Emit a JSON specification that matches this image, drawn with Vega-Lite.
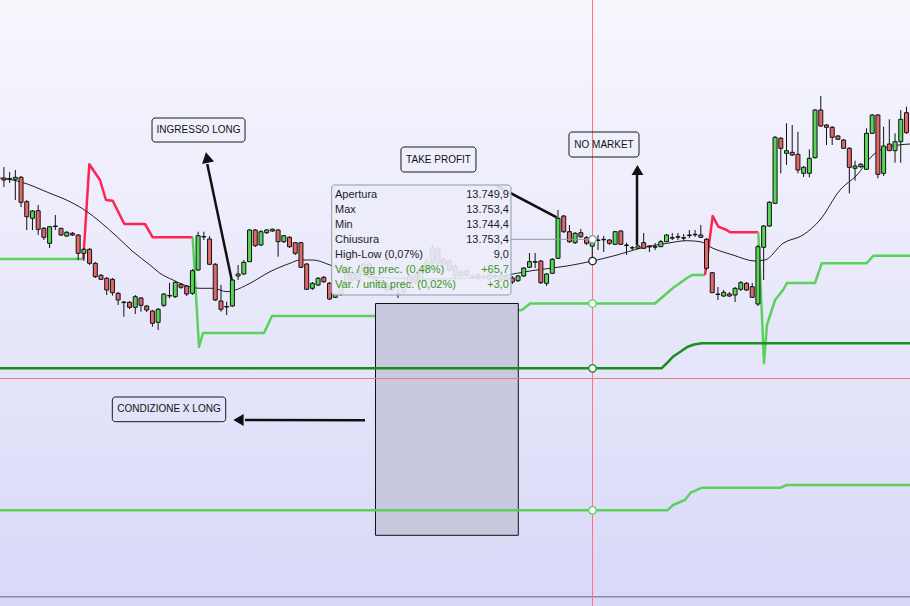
{
"$schema": "https://vega.github.io/schema/vega-lite/v6.json",
"width": 910, "height": 606, "padding": 0, "autosize": {"type": "none"},
"config": {"view": {"stroke": null}, "axis": {"disable": true}, "font": "Liberation Sans", "scale": {"continuousPadding": 0}},
"datasets": {
"candles": [
{"i":0,"o":13784,"h":13789.5,"l":13779.5,"c":13783},
{"i":1,"o":13783.5,"h":13787,"l":13781.5,"c":13783.75},
{"i":2,"o":13783.35,"h":13788,"l":13773,"c":13784.35},
{"i":3,"o":13784.35,"h":13785,"l":13769.5,"c":13771.85},
{"i":4,"o":13772.15,"h":13773,"l":13758,"c":13764.65},
{"i":5,"o":13763.85,"h":13768,"l":13758,"c":13767.5},
{"i":6,"o":13767.65,"h":13770.5,"l":13755.5,"c":13758.35},
{"i":7,"o":13758.85,"h":13759.5,"l":13753,"c":13754.35},
{"i":8,"o":13751.35,"h":13760,"l":13749,"c":13759.65},
{"i":9,"o":13760,"h":13765.5,"l":13758,"c":13759.75},
{"i":10,"o":13758.85,"h":13759,"l":13755,"c":13755.5},
{"i":11,"o":13755,"h":13757.5,"l":13754.5,"c":13756.85},
{"i":12,"o":13756.35,"h":13757,"l":13755,"c":13755.5},
{"i":13,"o":13755.5,"h":13756,"l":13743,"c":13746.35},
{"i":14,"o":13746.35,"h":13749,"l":13742.5,"c":13748.35},
{"i":15,"o":13748.35,"h":13749,"l":13740.5,"c":13741.35},
{"i":16,"o":13741.35,"h":13742,"l":13734,"c":13734.65},
{"i":17,"o":13735.35,"h":13736,"l":13733,"c":13733.35},
{"i":18,"o":13733.85,"h":13734.5,"l":13725.5,"c":13728},
{"i":19,"o":13733.35,"h":13734,"l":13725.15,"c":13726.65},
{"i":20,"o":13726.35,"h":13727,"l":13720.5,"c":13723},
{"i":21,"o":13722,"h":13722.5,"l":13714.65,"c":13721.7},
{"i":22,"o":13721.85,"h":13722.5,"l":13718.5,"c":13719.35},
{"i":23,"o":13719.35,"h":13725.5,"l":13716,"c":13724.65},
{"i":24,"o":13724,"h":13724.5,"l":13717.15,"c":13720.35},
{"i":25,"o":13720,"h":13720.5,"l":13717,"c":13718},
{"i":26,"o":13717.5,"h":13718,"l":13709.65,"c":13711.35},
{"i":27,"o":13711.85,"h":13719,"l":13708,"c":13718.35},
{"i":28,"o":13720.35,"h":13726.5,"l":13719.5,"c":13726},
{"i":29,"o":13725,"h":13731.65,"l":13723.85,"c":13725.25},
{"i":30,"o":13724.65,"h":13732.5,"l":13724,"c":13731.85},
{"i":31,"o":13730.85,"h":13731.5,"l":13728.5,"c":13729.35},
{"i":32,"o":13730,"h":13730.5,"l":13725,"c":13726},
{"i":33,"o":13726.35,"h":13738.5,"l":13725.5,"c":13737.65},
{"i":34,"o":13738,"h":13757.15,"l":13737.5,"c":13755.15},
{"i":35,"o":13754.75,"h":13757.15,"l":13753,"c":13754.5},
{"i":36,"o":13753.5,"h":13755,"l":13740.5,"c":13740.85},
{"i":37,"o":13740.85,"h":13741.5,"l":13722.5,"c":13723},
{"i":38,"o":13722.5,"h":13730.5,"l":13717.15,"c":13718.35},
{"i":39,"o":13719.75,"h":13722.15,"l":13715.5,"c":13719.5},
{"i":40,"o":13720,"h":13733.5,"l":13719.5,"c":13733},
{"i":41,"o":13735,"h":13740.5,"l":13733,"c":13736},
{"i":42,"o":13736,"h":13743,"l":13735.5,"c":13741.85},
{"i":43,"o":13742.15,"h":13758.5,"l":13742,"c":13758},
{"i":44,"o":13758,"h":13758.5,"l":13749.5,"c":13750.15},
{"i":45,"o":13750.5,"h":13758,"l":13750,"c":13757.15},
{"i":46,"o":13756.65,"h":13758.5,"l":13756,"c":13758},
{"i":47,"o":13757.5,"h":13758.75,"l":13757,"c":13758.35},
{"i":48,"o":13758,"h":13758.5,"l":13744.65,"c":13752.15},
{"i":49,"o":13752.15,"h":13755.5,"l":13751.5,"c":13755.15},
{"i":50,"o":13754.35,"h":13755,"l":13749,"c":13749.65},
{"i":51,"o":13751.65,"h":13752,"l":13745.5,"c":13746.35},
{"i":52,"o":13751.65,"h":13752,"l":13739,"c":13739.35},
{"i":53,"o":13741,"h":13741.5,"l":13728,"c":13728.35},
{"i":54,"o":13728.85,"h":13732,"l":13728,"c":13731.35},
{"i":55,"o":13730.5,"h":13734.5,"l":13730,"c":13733.85},
{"i":56,"o":13734.35,"h":13735,"l":13731.5,"c":13732.15},
{"i":57,"o":13731.35,"h":13732,"l":13723,"c":13723.5},
{"i":58,"o":13724.35,"h":13726.5,"l":13724,"c":13725.85},
{"i":59,"o":13726,"h":13731,"l":13725,"c":13730.5},
{"i":60,"o":13730.5,"h":13738,"l":13729.5,"c":13737},
{"i":61,"o":13736.5,"h":13739,"l":13732,"c":13733},
{"i":62,"o":13733,"h":13740,"l":13732,"c":13738},
{"i":63,"o":13737.5,"h":13742,"l":13736.5,"c":13741},
{"i":64,"o":13741,"h":13742,"l":13733.5,"c":13734.5},
{"i":65,"o":13734.5,"h":13735,"l":13729.5,"c":13731},
{"i":66,"o":13731,"h":13733,"l":13728.5,"c":13730.75},
{"i":67,"o":13731,"h":13732,"l":13727,"c":13728},
{"i":68,"o":13728,"h":13731,"l":13727,"c":13730},
{"i":69,"o":13726.5,"h":13728.5,"l":13724,"c":13726.25},
{"i":70,"o":13727,"h":13732.5,"l":13726,"c":13731.5},
{"i":71,"o":13731,"h":13736,"l":13730,"c":13735},
{"i":72,"o":13735,"h":13736,"l":13731,"c":13732},
{"i":73,"o":13732,"h":13739,"l":13731.5,"c":13738},
{"i":74,"o":13738,"h":13744,"l":13737.5,"c":13742},
{"i":75,"o":13741.5,"h":13751,"l":13741,"c":13749},
{"i":76,"o":13748.5,"h":13750,"l":13740.5,"c":13741.5},
{"i":77,"o":13741,"h":13744.5,"l":13740,"c":13743},
{"i":78,"o":13742.5,"h":13743.5,"l":13737,"c":13738},
{"i":79,"o":13740,"h":13741,"l":13734,"c":13735},
{"i":80,"o":13735,"h":13738,"l":13734,"c":13737},
{"i":81,"o":13737.5,"h":13738.5,"l":13734.5,"c":13735.5},
{"i":82,"o":13735,"h":13736,"l":13733.5,"c":13734.75},
{"i":83,"o":13735.5,"h":13736.5,"l":13733,"c":13734},
{"i":84,"o":13734.5,"h":13735.5,"l":13733,"c":13734.25},
{"i":85,"o":13733.5,"h":13736.5,"l":13732.5,"c":13735.5},
{"i":86,"o":13735,"h":13736,"l":13733.5,"c":13734.75},
{"i":87,"o":13735,"h":13736,"l":13732,"c":13733},
{"i":88,"o":13733,"h":13736,"l":13732,"c":13735},
{"i":89,"o":13734,"h":13735,"l":13731,"c":13732},
{"i":90,"o":13732.65,"h":13735.5,"l":13732,"c":13735},
{"i":91,"o":13735,"h":13739.5,"l":13734.5,"c":13739},
{"i":92,"o":13739.35,"h":13746.5,"l":13739,"c":13742.15},
{"i":93,"o":13742.15,"h":13746.5,"l":13739,"c":13741.9},
{"i":94,"o":13742.5,"h":13743,"l":13731,"c":13731.65},
{"i":95,"o":13731.35,"h":13736.5,"l":13730,"c":13736},
{"i":96,"o":13736.35,"h":13744,"l":13736,"c":13743.35},
{"i":97,"o":13743.85,"h":13768,"l":13743.5,"c":13763.85},
{"i":98,"o":13765,"h":13765.5,"l":13756.5,"c":13757.15},
{"i":99,"o":13757.15,"h":13760.5,"l":13751.5,"c":13752.15},
{"i":100,"o":13751.65,"h":13757,"l":13751,"c":13756.35},
{"i":101,"o":13756.65,"h":13758.5,"l":13754,"c":13754.65},
{"i":102,"o":13754.15,"h":13755,"l":13750.5,"c":13751.35},
{"i":103,"o":13749.9,"h":13753.4,"l":13744.4,"c":13753.4},
{"i":104,"o":13753,"h":13755.5,"l":13748,"c":13752.75},
{"i":105,"o":13753.35,"h":13755,"l":13747,"c":13753.1},
{"i":106,"o":13753,"h":13753.5,"l":13750.5,"c":13751.35},
{"i":107,"o":13750.85,"h":13757.5,"l":13750.5,"c":13757.15},
{"i":108,"o":13757.5,"h":13758,"l":13750.5,"c":13750.85},
{"i":109,"o":13750.5,"h":13751.65,"l":13745.5,"c":13750.25},
{"i":110,"o":13749.15,"h":13750,"l":13748,"c":13749},
{"i":111,"o":13748.85,"h":13750.5,"l":13748.5,"c":13750},
{"i":112,"o":13751.65,"h":13756.5,"l":13748.5,"c":13748.85},
{"i":113,"o":13750,"h":13750.5,"l":13747,"c":13749.5},
{"i":114,"o":13749.65,"h":13751.5,"l":13748,"c":13749.4},
{"i":115,"o":13749.65,"h":13753,"l":13749.5,"c":13752.15},
{"i":116,"o":13752.15,"h":13756,"l":13752,"c":13755.5},
{"i":117,"o":13754.15,"h":13756.5,"l":13753,"c":13753.9},
{"i":118,"o":13754.65,"h":13756.5,"l":13753,"c":13754.4},
{"i":119,"o":13754.15,"h":13756,"l":13752.5,"c":13753.9},
{"i":120,"o":13755.5,"h":13758,"l":13754,"c":13755.25},
{"i":121,"o":13755.85,"h":13758,"l":13754.5,"c":13755.6},
{"i":122,"o":13755.5,"h":13760.5,"l":13754,"c":13754.35},
{"i":123,"o":13753.35,"h":13754,"l":13738,"c":13738.85},
{"i":124,"o":13736.65,"h":13737,"l":13726.5,"c":13726.65},
{"i":125,"o":13726,"h":13729.5,"l":13723,"c":13725.75},
{"i":126,"o":13725,"h":13728,"l":13724.5,"c":13726.85},
{"i":127,"o":13726,"h":13727,"l":13724.5,"c":13725},
{"i":128,"o":13725.5,"h":13729.5,"l":13722,"c":13728.85},
{"i":129,"o":13728.35,"h":13732.5,"l":13727.5,"c":13731.65},
{"i":130,"o":13731.35,"h":13732,"l":13727.5,"c":13728},
{"i":131,"o":13729.65,"h":13731.5,"l":13724,"c":13724.35},
{"i":132,"o":13721,"h":13750.5,"l":13720,"c":13749.65},
{"i":133,"o":13749.35,"h":13760.5,"l":13733,"c":13760},
{"i":134,"o":13760,"h":13772.5,"l":13759.5,"c":13771.85},
{"i":135,"o":13771.35,"h":13805,"l":13771,"c":13804.35},
{"i":136,"o":13803.85,"h":13804.5,"l":13786.35,"c":13798.85},
{"i":137,"o":13796.35,"h":13811.35,"l":13790.5,"c":13797.65},
{"i":138,"o":13796.85,"h":13810.5,"l":13795,"c":13795.5},
{"i":139,"o":13795.85,"h":13807.15,"l":13786.35,"c":13788},
{"i":140,"o":13786.35,"h":13790,"l":13784.5,"c":13789.35},
{"i":141,"o":13786.35,"h":13798.35,"l":13784.35,"c":13793.85},
{"i":142,"o":13794.15,"h":13818.5,"l":13793.75,"c":13818},
{"i":143,"o":13818,"h":13825,"l":13809.5,"c":13810},
{"i":144,"o":13810.5,"h":13811,"l":13800.5,"c":13809.35},
{"i":145,"o":13809.35,"h":13810,"l":13800.5,"c":13804.35},
{"i":146,"o":13805,"h":13805.5,"l":13803,"c":13803.35},
{"i":147,"o":13803,"h":13803.5,"l":13798.5,"c":13798.85},
{"i":148,"o":13798.85,"h":13799.5,"l":13776.35,"c":13789.35},
{"i":149,"o":13788.85,"h":13792.65,"l":13782.65,"c":13790},
{"i":150,"o":13789.65,"h":13791.5,"l":13789,"c":13790.85},
{"i":151,"o":13788.35,"h":13808.85,"l":13788,"c":13806.35},
{"i":152,"o":13806.35,"h":13816,"l":13806,"c":13815.5},
{"i":153,"o":13815.5,"h":13816,"l":13783.85,"c":13785.85},
{"i":154,"o":13786.35,"h":13809.65,"l":13785,"c":13800},
{"i":155,"o":13801,"h":13813.35,"l":13797.5,"c":13797.65},
{"i":156,"o":13797.65,"h":13806.35,"l":13791.65,"c":13802.15},
{"i":157,"o":13802.15,"h":13818,"l":13791.65,"c":13813.35},
{"i":158,"o":13816.65,"h":13819.65,"l":13806,"c":13806.65}
],
"ma": [
{"i":-0.683,"p":13784},{"i":2.82,"p":13782.15},{"i":8.07,"p":13776.35},{"i":11.57,"p":13772.15},{"i":14.55,"p":13767.15},{"i":16.82,"p":13762.15},{"i":19.8,"p":13754.65},{"i":22.6,"p":13747.15},{"i":25.58,"p":13740.5},{"i":27.33,"p":13736.35},{"i":29.6,"p":13733},{"i":32.05,"p":13730},{"i":34.33,"p":13728.85},{"i":36.6,"p":13728.85},{"i":39.06,"p":13727.15},{"i":40.1,"p":13727.65},{"i":43.08,"p":13731.35},{"i":46.58,"p":13737.15},{"i":50.08,"p":13741.35},{"i":51.83,"p":13743},{"i":54.11,"p":13743},{"i":57.08,"p":13740.5},{"i":59.36,"p":13738},{"i":67.59,"p":13734},{"i":74.59,"p":13733.5},{"i":81.6,"p":13734},{"i":86.85,"p":13735},{"i":92.62,"p":13737.75},{"i":98.58,"p":13740},{"i":103.04,"p":13742.5},{"i":107.33,"p":13745.5},{"i":111.35,"p":13748.85},{"i":116.08,"p":13751.35},{"i":119.58,"p":13752.65},{"i":121.86,"p":13752.15},{"i":124.14,"p":13748.85},{"i":127.63,"p":13745.5},{"i":131.48,"p":13742.5},{"i":133.23,"p":13743},{"i":136.39,"p":13751.35},{"i":139.89,"p":13755.5},{"i":142.86,"p":13763},{"i":146.37,"p":13778},{"i":149.34,"p":13785.5},{"i":152.15,"p":13795.5},{"i":155.1,"p":13799.65},{"i":158.62,"p":13801}
],
"stop": [
{"seg":1,"state":"long","i":-0.683,"p":13743.5},{"seg":1,"state":"long","i":13.9,"p":13743.5},
{"seg":2,"state":"short","i":13.9,"p":13743.5},{"seg":2,"state":"short","i":14.95,"p":13790.85},{"seg":2,"state":"short","i":16.82,"p":13783},{"seg":2,"state":"short","i":17.87,"p":13773},{"seg":2,"state":"short","i":19.05,"p":13772.65},{"seg":2,"state":"short","i":21.08,"p":13761},{"seg":2,"state":"short","i":24.7,"p":13761},{"seg":2,"state":"short","i":26.05,"p":13754.35},{"seg":2,"state":"short","i":33.05,"p":13754.35},
{"seg":3,"state":"long","i":33.05,"p":13754.35},{"seg":3,"state":"long","i":34.15,"p":13699.5},{"seg":3,"state":"long","i":34.85,"p":13706.5},{"seg":3,"state":"long","i":45.53,"p":13706.5},{"seg":3,"state":"long","i":46.93,"p":13715},{"seg":3,"state":"long","i":64.96,"p":13715},{"seg":3,"state":"long","i":88.6,"p":13717.5},{"seg":3,"state":"long","i":90.7,"p":13718},{"seg":3,"state":"long","i":92.1,"p":13721.25},{"seg":3,"state":"long","i":113.98,"p":13721.25},{"seg":3,"state":"long","i":117.13,"p":13729},{"seg":3,"state":"long","i":119.58,"p":13734},{"seg":3,"state":"long","i":120.45,"p":13735.5},{"seg":3,"state":"long","i":122.73,"p":13735.5},
{"seg":4,"state":"short","i":122.73,"p":13735.5},{"seg":4,"state":"short","i":124.08,"p":13765},{"seg":4,"state":"short","i":125.06,"p":13759.65},{"seg":4,"state":"short","i":126.53,"p":13758},{"seg":4,"state":"short","i":127.1,"p":13756.85},{"seg":4,"state":"short","i":132.06,"p":13756.85},
{"seg":5,"state":"long","i":132.06,"p":13756.85},{"seg":5,"state":"long","i":133.06,"p":13691.5},{"seg":5,"state":"long","i":133.58,"p":13710.5},{"seg":5,"state":"long","i":135.0,"p":13723},{"seg":5,"state":"long","i":136.39,"p":13728},{"seg":5,"state":"long","i":137.09,"p":13731.5},{"seg":5,"state":"long","i":141.99,"p":13731.5},{"seg":5,"state":"long","i":143.16,"p":13741.35},{"seg":5,"state":"long","i":151.04,"p":13741.35},{"seg":5,"state":"long","i":152.19,"p":13745.15},{"seg":5,"state":"long","i":158.62,"p":13745.15}
],
"trend": [
{"i":-0.683,"p":13688.85},{"i":115.13,"p":13688.85},{"i":116.08,"p":13691.5},{"i":117.13,"p":13694.65},{"i":118.35,"p":13697},{"i":119.72,"p":13699.65},{"i":120.8,"p":13700.75},{"i":122.2,"p":13701.35},{"i":158.62,"p":13701.35}
],
"signal": [
{"i":-0.683,"p":13617.85},{"i":116.15,"p":13617.85},{"i":117.13,"p":13620.5},{"i":118.35,"p":13622},{"i":119.23,"p":13623},{"i":120.21,"p":13626.65},{"i":122.2,"p":13629.15},{"i":135.97,"p":13629.15},{"i":136.98,"p":13630.5},{"i":158.62,"p":13630.5}
],
"cross": [
{"i":103.04,"p":13753.35,"s":"Chiusura"},{"i":103.04,"p":13742.5,"s":"Media"},{"i":103.04,"p":13721.25,"s":"Stop"},{"i":103.04,"p":13688.85,"s":"Trend"},{"i":103.04,"p":13617.85,"s":"Segnale"}
],
"notes": [
{"t":"INGRESSO LONG","i0":25.93,"i1":42.21,"p0":13802,"p1":13814,"ic":34.07,"pc":13808},
{"t":"TAKE PROFIT","i0":69.51,"i1":82.64,"p0":13787,"p1":13799.5,"ic":76.08,"pc":13793.25},
{"t":"NO MARKET","i0":98.92,"i1":111.18,"p0":13794.5,"p1":13807,"ic":105.05,"pc":13800.75},
{"t":"CONDIZIONE X LONG","i0":18.98,"i1":38.83,"p0":13662.15,"p1":13674.5,"ic":28.9,"pc":13668.35}
],
"shafts": [
{"i0":39.88,"p0":13733,"i1":35.6,"p1":13791},
{"i0":96.77,"p0":13764.35,"i1":86.32,"p1":13780},
{"i0":110.83,"p0":13750.5,"i1":110.83,"p1":13786.5},
{"i0":63.21,"p0":13662.85,"i1":42.2,"p1":13663}
],
"tip": [
{"k":"Apertura","v":"13.749,9","p":13775.5},
{"k":"Max","v":"13.753,4","p":13768},
{"k":"Min","v":"13.744,4","p":13760.5},
{"k":"Chiusura","v":"13.753,4","p":13753},
{"k":"High-Low (0,07%)","v":"9,0","p":13745.5},
{"k":"Var. / gg prec. (0,48%)","v":"+65,7","p":13738},
{"k":"Var. / unità prec. (0,02%)","v":"+3,0","p":13730.5}
]
},
"layer": [
{"data": {"values": [{}]},
 "mark": {"type": "rect", "fill": {"gradient": "linear", "x1": 0, "y1": 0, "x2": 0, "y2": 1, "stops": [{"offset": 0, "color": "#f7f7fe"}, {"offset": 0.5, "color": "#e8e8fb"}, {"offset": 1, "color": "#d8d8f8"}]}},
 "encoding": {
  "x": {"datum": -0.683, "type": "quantitative", "scale": {"domain": [-0.683, 158.62], "nice": false, "zero": false, "padding": 0}, "axis": null},
  "x2": {"datum": 158.62},
  "y": {"datum": 13570, "type": "quantitative", "scale": {"domain": [13570, 13873], "nice": false, "zero": false, "padding": 0}, "axis": null},
  "y2": {"datum": 13873}}},
{"data": {"name": "stop"}, "mark": {"type": "line", "strokeWidth": 2.5, "strokeJoin": "round"},
 "encoding": {"x": {"field": "i", "type": "quantitative"}, "y": {"field": "p", "type": "quantitative"},
  "color": {"field": "state", "type": "nominal", "scale": {"domain": ["long", "short"], "range": ["#5ad25a", "#ff2452"]}, "legend": null},
  "detail": {"field": "seg", "type": "nominal"}}},
{"data": {"values": [{}]},
 "mark": {"type": "rect", "fill": "#c8c8e0", "fillOpacity": 1, "stroke": "#111111", "strokeWidth": 1},
 "encoding": {"x": {"datum": 65.05, "type": "quantitative"}, "x2": {"datum": 90.05}, "y": {"datum": 13605.35, "type": "quantitative"}, "y2": {"datum": 13721.25}}},
{"data": {"values": [{}]}, "mark": {"type": "rule", "color": "#8a8aa6", "strokeWidth": 1.5},
 "encoding": {"y": {"datum": 13574.65, "type": "quantitative"}}},
{"data": {"values": [{}]}, "mark": {"type": "rule", "color": "#ff7474", "strokeWidth": 1},
 "encoding": {"x": {"datum": 103.038, "type": "quantitative"}}},
{"data": {"values": [{}]}, "mark": {"type": "rule", "color": "#f07878", "strokeWidth": 1},
 "encoding": {"y": {"datum": 13683.75, "type": "quantitative"}}},
{"data": {"name": "signal"}, "mark": {"type": "line", "color": "#5ad25a", "strokeWidth": 2.5},
 "encoding": {"x": {"field": "i", "type": "quantitative"}, "y": {"field": "p", "type": "quantitative"}}},
{"data": {"name": "trend"}, "mark": {"type": "line", "color": "#189018", "strokeWidth": 2.5},
 "encoding": {"x": {"field": "i", "type": "quantitative"}, "y": {"field": "p", "type": "quantitative"}}},
{"data": {"name": "ma"}, "mark": {"type": "line", "color": "#222222", "strokeWidth": 1, "interpolate": "monotone"},
 "encoding": {"x": {"field": "i", "type": "quantitative"}, "y": {"field": "p", "type": "quantitative"}}},
{"data": {"name": "candles"}, "mark": {"type": "rule", "color": "#111111", "strokeWidth": 1},
 "encoding": {"x": {"field": "i", "type": "quantitative"}, "y": {"field": "l", "type": "quantitative"}, "y2": {"field": "h"}}},
{"data": {"name": "candles"}, "mark": {"type": "bar", "width": 4, "stroke": "#111111", "strokeWidth": 1},
 "encoding": {"x": {"field": "i", "type": "quantitative"}, "y": {"field": "o", "type": "quantitative"}, "y2": {"field": "c"},
  "color": {"condition": {"test": "datum.c >= datum.o", "value": "#58d458"}, "value": "#e06868"}}},
{"data": {"name": "notes"}, "mark": {"type": "rect", "fill": "#ffffff", "fillOpacity": 0, "stroke": "#1a1a1a", "strokeWidth": 1, "cornerRadius": 3},
 "encoding": {"x": {"field": "i0", "type": "quantitative"}, "x2": {"field": "i1"}, "y": {"field": "p0", "type": "quantitative"}, "y2": {"field": "p1"}}},
{"data": {"name": "notes"}, "mark": {"type": "text", "font": "Liberation Sans", "fontSize": 10, "color": "#111111", "align": "center", "baseline": "middle"},
 "encoding": {"x": {"field": "ic", "type": "quantitative"}, "y": {"field": "pc", "type": "quantitative"}, "text": {"field": "t"}}},
{"data": {"name": "shafts"}, "mark": {"type": "rule", "color": "#111111", "strokeWidth": 2.5},
 "encoding": {"x": {"field": "i0", "type": "quantitative"}, "x2": {"field": "i1"}, "y": {"field": "p0", "type": "quantitative"}, "y2": {"field": "p1"}}},
{"data": {"values": [{}]}, "mark": {"type": "point", "shape": "triangle-up", "filled": true, "color": "#111111", "size": 150, "angle": 348, "opacity": 1},
 "encoding": {"x": {"datum": 35.55, "type": "quantitative"}, "y": {"datum": 13794.25, "type": "quantitative"}}},
{"data": {"values": [{}]}, "mark": {"type": "point", "shape": "triangle-up", "filled": true, "color": "#111111", "size": 140, "opacity": 1},
 "encoding": {"x": {"datum": 110.91, "type": "quantitative"}, "y": {"datum": 13788, "type": "quantitative"}}},
{"data": {"values": [{}]}, "mark": {"type": "point", "shape": "triangle-left", "filled": true, "color": "#111111", "size": 140, "opacity": 1},
 "encoding": {"x": {"datum": 41.07, "type": "quantitative"}, "y": {"datum": 13663, "type": "quantitative"}}},
{"data": {"values": [{}]}, "mark": {"type": "rule", "color": "#8a9aaa", "strokeWidth": 1},
 "encoding": {"x": {"datum": 88.77, "type": "quantitative"}, "x2": {"datum": 102.3}, "y": {"datum": 13753.35, "type": "quantitative"}}},
{"data": {"name": "cross"}, "mark": {"type": "point", "filled": false, "fill": "#ffffff", "fillOpacity": 1, "size": 55, "strokeWidth": 1.3, "opacity": 1},
 "encoding": {"x": {"field": "i", "type": "quantitative"}, "y": {"field": "p", "type": "quantitative"},
  "stroke": {"field": "s", "type": "nominal", "scale": {"domain": ["Chiusura", "Media", "Stop", "Trend", "Segnale"], "range": ["#8a9aaa", "#222222", "#5ad25a", "#189018", "#5ad25a"]}, "legend": null}}},
{"data": {"values": [{}]}, "mark": {"type": "rect", "fill": "#ececfa", "fillOpacity": 0.9, "stroke": "#8c9cac", "strokeWidth": 1, "cornerRadius": 3},
 "encoding": {"x": {"datum": 57.38, "type": "quantitative"}, "x2": {"datum": 88.77}, "y": {"datum": 13725.5, "type": "quantitative"}, "y2": {"datum": 13780.5}}},
{"data": {"name": "tip"}, "mark": {"type": "text", "font": "Liberation Sans", "fontSize": 11, "align": "left", "baseline": "middle"},
 "encoding": {"x": {"datum": 57.96, "type": "quantitative"}, "y": {"field": "p", "type": "quantitative"}, "text": {"field": "k"},
  "color": {"condition": {"test": "indexof(datum.k, 'Var') === 0", "value": "#3c9615"}, "value": "#1c1c28"}}},
{"data": {"name": "tip"}, "mark": {"type": "text", "font": "Liberation Sans", "fontSize": 11, "align": "right", "baseline": "middle"},
 "encoding": {"x": {"datum": 88.42, "type": "quantitative"}, "y": {"field": "p", "type": "quantitative"}, "text": {"field": "v"},
  "color": {"condition": {"test": "indexof(datum.k, 'Var') === 0", "value": "#3c9615"}, "value": "#1c1c28"}}}
]
}
